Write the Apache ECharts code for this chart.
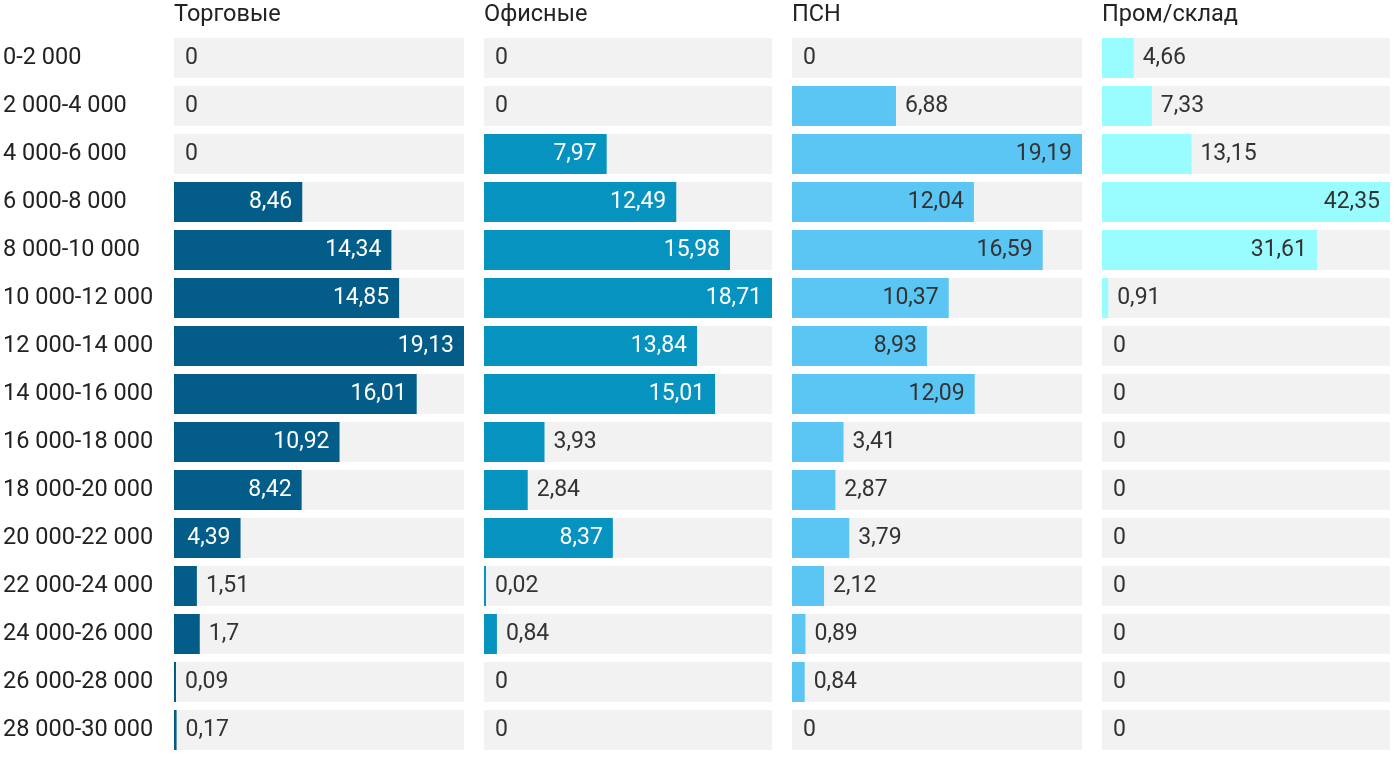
<!DOCTYPE html>
<html><head><meta charset="utf-8">
<script src="https://cdn.jsdelivr.net/npm/echarts@6/dist/echarts.min.js"></script>
<style>html,body{margin:0;padding:0;background:#fff}#c{width:1400px;height:766px}</style>
</head><body><div id="c"></div>
<script>
const categories = ['0-2 000','2 000-4 000','4 000-6 000','6 000-8 000','8 000-10 000','10 000-12 000','12 000-14 000','14 000-16 000','16 000-18 000','18 000-20 000','20 000-22 000','22 000-24 000','24 000-26 000','26 000-28 000','28 000-30 000'];
const panelTitles = ['Торговые','Офисные','ПСН','Пром/склад'];
const torgovye = [0,0,0,8.46,14.34,14.85,19.13,16.01,10.92,8.42,4.39,1.51,1.7,0.09,0.17];
const ofisnye = [0,0,7.97,12.49,15.98,18.71,13.84,15.01,3.93,2.84,8.37,0.02,0.84,0,0];
const psn = [0,6.88,19.19,12.04,16.59,10.37,8.93,12.09,3.41,2.87,3.79,2.12,0.89,0.84,0];
const prom = [4.66,7.33,13.15,42.35,31.61,0.91,0,0,0,0,0,0,0,0,0];

const seriesData = [torgovye, ofisnye, psn, prom];
const colors = ['#035d88','#0793c0','#5bc6f3','#99fdff'];
const insideColors = ['#ffffff','#ffffff','#333333','#333333'];
const thresholds = [3, 5, 8, 20];
const lefts = [174, 484, 792, 1102];
const widths = [290, 288, 290, 288];
const FONT = 'Roboto, "Noto Sans", sans-serif';

const chart = echarts.init(document.getElementById('c'));
const grids = [], xAxes = [], yAxes = [], series = [], titles = [];
seriesData.forEach((vals, i) => {
  grids.push({left: lefts[i], width: widths[i], top: 34, height: 720, containLabel: false, outerBoundsMode: 'none'});
  xAxes.push({type: 'value', gridIndex: i, min: 0, max: Math.max(...vals), show: false});
  yAxes.push({type: 'category', gridIndex: i, data: categories, inverse: true,
    axisLine: {show: false}, axisTick: {show: false}, splitLine: {show: false},
    axisLabel: {show: i === 0, align: 'left', margin: 171, padding: [4, 0, 0, 0], fontSize: 23.5, color: '#222', fontFamily: FONT}});
  titles.push({text: panelTitles[i], left: lefts[i], top: 3, padding: 0,
    textStyle: {fontSize: 23.5, fontWeight: 'normal', color: '#222', fontFamily: FONT}});
  series.push({
    type: 'bar', xAxisIndex: i, yAxisIndex: i, barWidth: 40, barMinHeight: 2,
    itemStyle: {color: colors[i]},
    showBackground: true, backgroundStyle: {color: '#f2f2f2'},
    animation: false,
    data: vals.map(v => {
      const inside = v >= thresholds[i];
      return {value: v,
        itemStyle: v === 0 ? {color: 'rgba(0,0,0,0)'} : undefined,
        label: {show: true,
        position: inside ? 'insideRight' : 'right', distance: inside ? 10 : 9,
        padding: [4, 0, 0, 0],
        color: inside ? insideColors[i] : '#333', fontSize: 23, fontFamily: FONT,
        formatter: p => String(p.value).replace('.', ',')}};
    })
  });
});
chart.setOption({title: titles, grid: grids, xAxis: xAxes, yAxis: yAxes, series: series, animation: false});
</script></body></html>
